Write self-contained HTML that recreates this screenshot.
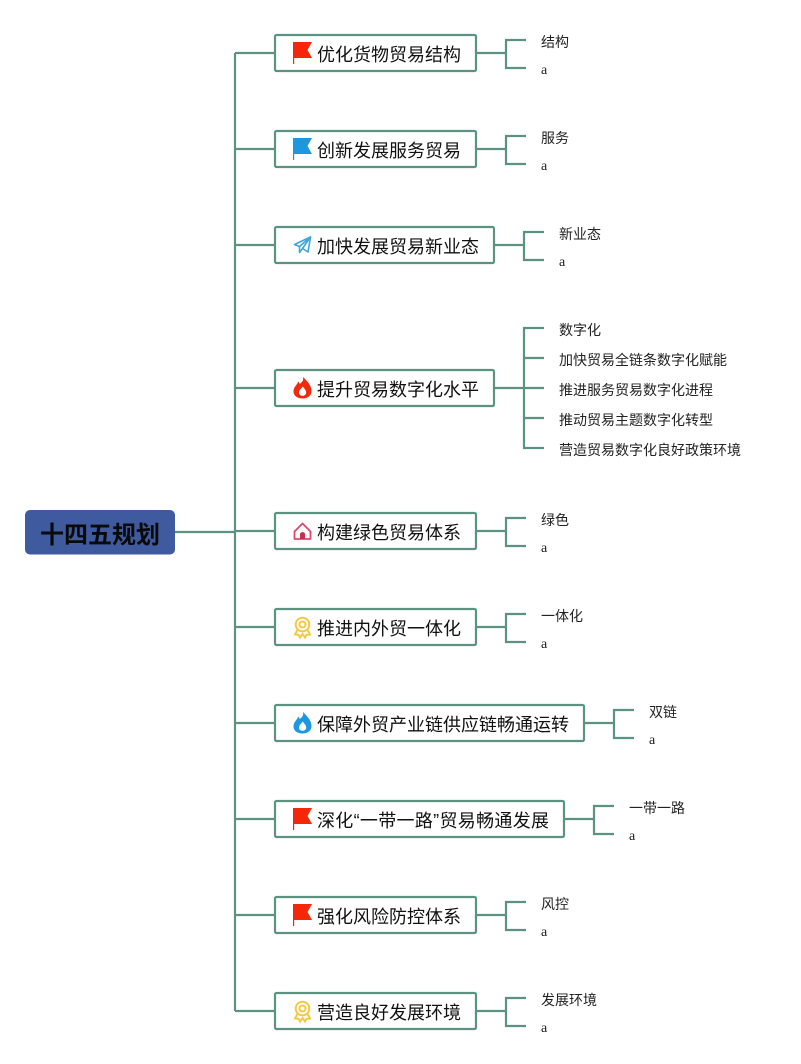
<!DOCTYPE html>
<html lang="zh"><head><meta charset="utf-8">
<style>
html,body{margin:0;padding:0;background:#fff;width:801px;height:1064px;overflow:hidden}
svg{display:block}
text{font-family:"Liberation Sans","Noto Sans CJK SC",sans-serif;fill:#111}
.n{font-size:18px}
.s{font-size:14px;fill:#222}
.a{font-family:"Liberation Serif",serif;font-size:14px;fill:#222}
.l{fill:none;stroke:#5b9282;stroke-width:2.2}
.b{fill:#fff;stroke:#5b9282;stroke-width:2.2}
</style></head><body>
<svg width="801" height="1064" viewBox="0 0 801 1064" xmlns="http://www.w3.org/2000/svg">
<defs>
<g id="flag"><path d="M0 0H19L14.500 8L19 16H1.200V22H0Z"/></g>
<g id="fire"><path d="M10 0C10.800 3.500 9 5.500 6.500 7C6.300 5.800 5.800 5 5 4.500C4.500 8 0.500 9.500 0.500 14.500C0.500 18.800 4.500 21.500 9.500 21.500C14.500 21.500 18.500 18.800 18.500 14C18.500 8.500 14 4 10 0ZM9.500 18.800C7.500 18.800 6 17.500 6 15.500C6 13 8.500 11.500 9.800 9.500C11 11.500 13.200 13 13.200 15.500C13.200 17.500 11.500 18.800 9.500 18.800Z" fill-rule="evenodd"/></g>
<g id="medal" fill="none" stroke="#f5c842" stroke-width="2"><circle cx="8.500" cy="7.500" r="6.800"/><circle cx="8.500" cy="7.500" r="3"/><path d="M3.500 13L1 17.500L4.500 17.800L6 20.500L8.500 17L11 20.500L12.500 17.800L16 17.500L13.500 13"/></g>
<g id="home"><path d="M1 9.500L9 1.500L17 9.500V17H1Z" fill="none" stroke="#e0476b" stroke-width="1.800" stroke-linejoin="round"/><path d="M6.500 17V11.500Q9 8.500 11.500 11.500V17Z" fill="#c9304f"/></g>
</defs>

<path class="l" d="M235 53V1011M235 53H275M235 149H275M235 245H275M235 388H275M235 531H275M235 627H275M235 723H275M235 819H275M235 915H275M235 1011H275M175 532H235"/>

<rect x="25" y="510" width="150" height="44.500" rx="5" fill="#3f5a9f"/>
<text x="40" y="543" style="font-size:24px;font-weight:700;fill:#0a0a0a">十四五规划</text>

<g class="boxes">
<rect class="b" x="275" y="35" width="201" height="36" rx="1.500"/>
<rect class="b" x="275" y="131" width="201" height="36" rx="1.500"/>
<rect class="b" x="275" y="227" width="219" height="36" rx="1.500"/>
<rect class="b" x="275" y="370" width="219" height="36" rx="1.500"/>
<rect class="b" x="275" y="513" width="201" height="36" rx="1.500"/>
<rect class="b" x="275" y="609" width="201" height="36" rx="1.500"/>
<rect class="b" x="275" y="705" width="309" height="36" rx="1.500"/>
<rect class="b" x="275" y="801" width="289" height="36" rx="1.500"/>
<rect class="b" x="275" y="897" width="201" height="36" rx="1.500"/>
<rect class="b" x="275" y="993" width="201" height="36" rx="1.500"/>
</g>

<path class="l" d="M476 53H506M526 40H506V68H526
M476 149H506M526 136H506V164H526
M494 245H524M544 232H524V260H544
M494 388H544M544 328H524V448H544M524 358H544M524 418H544
M476 531H506M526 518H506V546H526
M476 627H506M526 614H506V642H526
M584 723H614M634 710H614V738H634
M564 819H594M614 806H594V834H614
M476 915H506M526 902H506V930H526
M476 1011H506M526 998H506V1026H526"/>

<use href="#flag" x="293" y="42" fill="#f5270b"/>
<use href="#flag" x="293" y="138" fill="#1d98e0"/>
<g transform="translate(294,236)" fill="none" stroke="#3fa5dc" stroke-width="1.600" stroke-linejoin="round"><path d="M0.500 8.500L16.500 1L14 16L8.500 12.500L5.500 16.500L5.500 10.500Z"/><path d="M5.500 10.500L16.500 1L8.500 12.500"/></g>
<use href="#fire" x="293" y="377" fill="#f0290f"/>
<use href="#home" x="293.500" y="522"/>
<use href="#medal" x="294" y="617"/>
<use href="#fire" x="293" y="712" fill="#1d98e0"/>
<use href="#flag" x="293" y="808" fill="#f5270b"/>
<use href="#flag" x="293" y="904" fill="#f5270b"/>
<use href="#medal" x="294" y="1001"/>

<text class="n" x="317" y="61">优化货物贸易结构</text>
<text class="n" x="317" y="157">创新发展服务贸易</text>
<text class="n" x="317" y="253">加快发展贸易新业态</text>
<text class="n" x="317" y="396">提升贸易数字化水平</text>
<text class="n" x="317" y="539">构建绿色贸易体系</text>
<text class="n" x="317" y="635">推进内外贸一体化</text>
<text class="n" x="317" y="731">保障外贸产业链供应链畅通运转</text>
<text class="n" x="317" y="827" textLength="232" lengthAdjust="spacing">深化“一带一路”贸易畅通发展</text>
<text class="n" x="317" y="923">强化风险防控体系</text>
<text class="n" x="317" y="1019">营造良好发展环境</text>

<text class="s" x="541" y="47">结构</text><text class="a" x="541" y="74">a</text>
<text class="s" x="541" y="143">服务</text><text class="a" x="541" y="170">a</text>
<text class="s" x="559" y="239">新业态</text><text class="a" x="559" y="266">a</text>
<text class="s" x="559" y="335">数字化</text>
<text class="s" x="559" y="365">加快贸易全链条数字化赋能</text>
<text class="s" x="559" y="395">推进服务贸易数字化进程</text>
<text class="s" x="559" y="425">推动贸易主题数字化转型</text>
<text class="s" x="559" y="455">营造贸易数字化良好政策环境</text>
<text class="s" x="541" y="525">绿色</text><text class="a" x="541" y="552">a</text>
<text class="s" x="541" y="621">一体化</text><text class="a" x="541" y="648">a</text>
<text class="s" x="649" y="717">双链</text><text class="a" x="649" y="744">a</text>
<text class="s" x="629" y="813">一带一路</text><text class="a" x="629" y="840">a</text>
<text class="s" x="541" y="909">风控</text><text class="a" x="541" y="936">a</text>
<text class="s" x="541" y="1005">发展环境</text><text class="a" x="541" y="1032">a</text>
</svg>
</body></html>
